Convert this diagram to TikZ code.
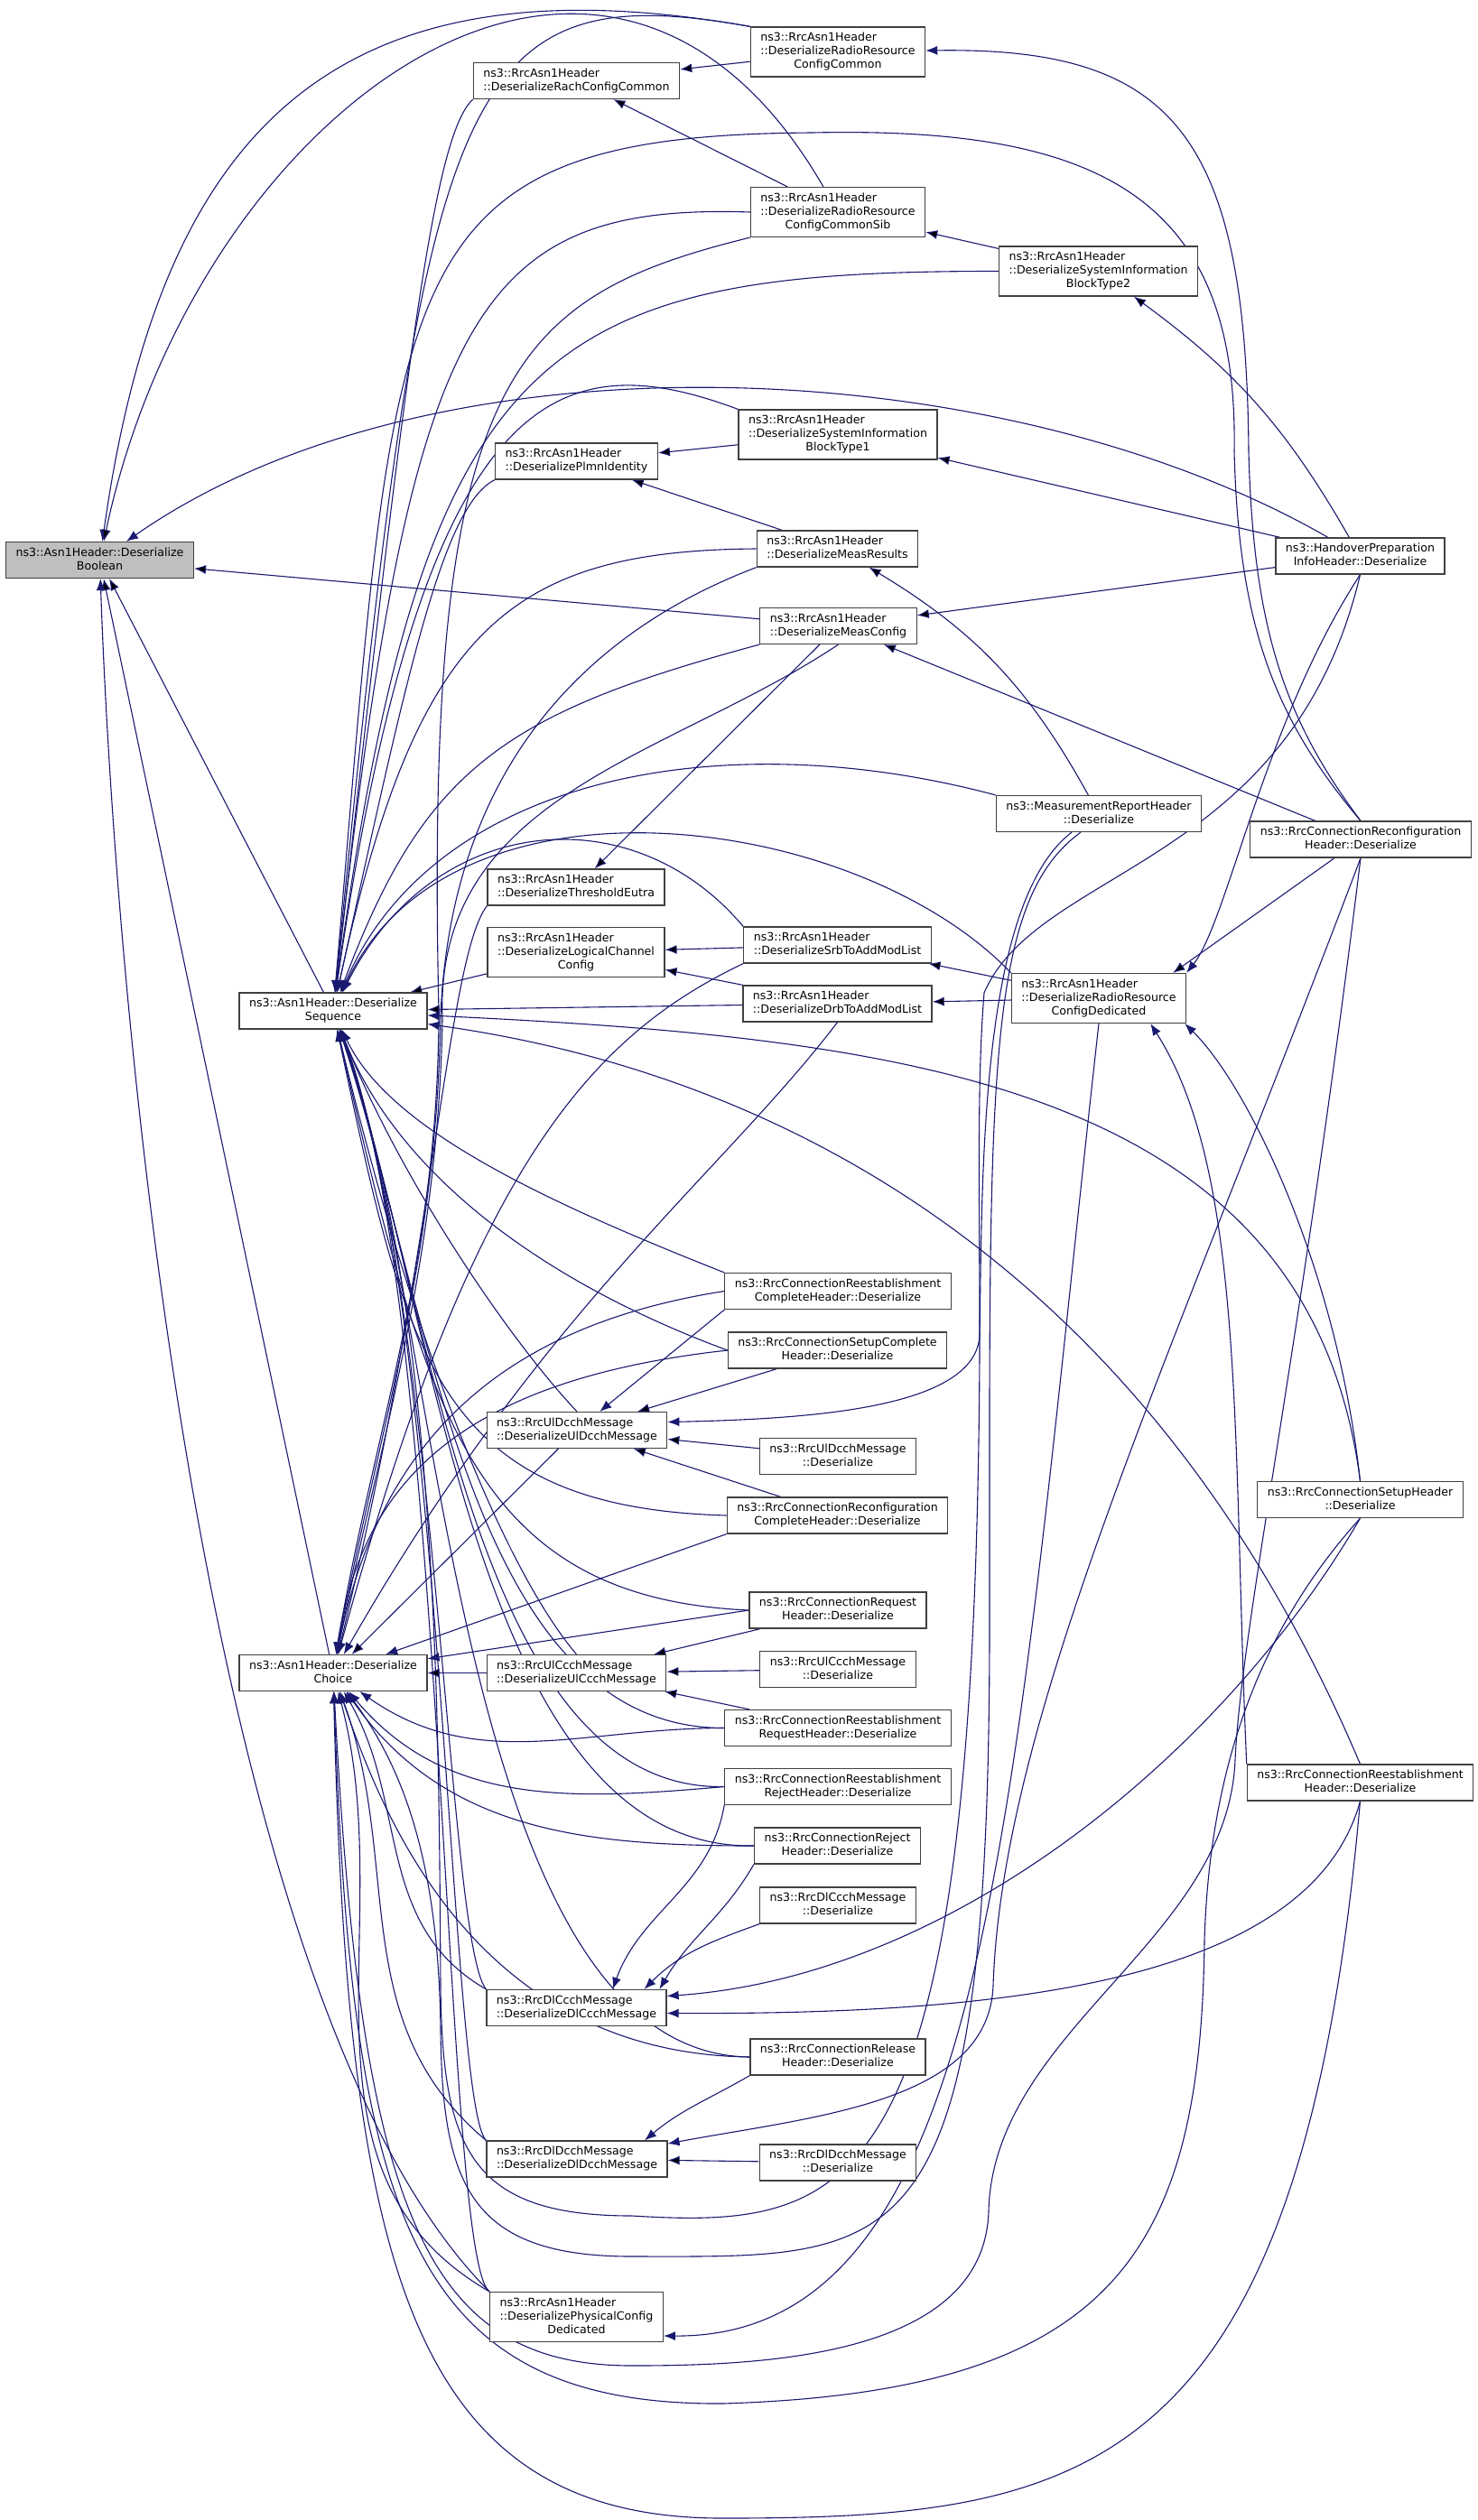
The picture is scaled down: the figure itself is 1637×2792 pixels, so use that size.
\documentclass[tikz,border=0pt]{standalone}
\usepackage{fontspec}
\setmainfont{DejaVu Sans}
\usetikzlibrary{arrows.meta,backgrounds}
\definecolor{midnightblue}{RGB}{25,25,112}
\newcommand{\fname}[2]{\begin{tabular}{@{}l@{}}#1\\\multicolumn{1}{@{}c@{}}{#2}\end{tabular}}
\tikzset{vertex/.style = {shape=rectangle,draw=black!75,line width=1.2pt,fill=white,inner xsep=11pt,inner ysep=5pt,font=\fontsize{12.6}{15}\selectfont}}
\tikzset{focus/.style = {vertex,fill=black!25}}
\tikzset{edge/.style = {->,> = {Latex[length=13pt,width=10pt]},draw=midnightblue,line width=1.1pt}}

\begin{document}
\begin{tikzpicture}[x=1pt,y=1pt]
\useasboundingbox (0,0) rectangle (1637,-2792);

\node[focus] (Bool) at (110.5,-620.5) {\fname{ns3::Asn1Header::Deserialize}{Boolean}};
\node[vertex] (Seq) at (369,-1120) {\fname{ns3::Asn1Header::Deserialize}{Sequence}};
\node[vertex] (Cho) at (369,-1853.5) {\fname{ns3::Asn1Header::Deserialize}{Choice}};

\node[vertex] (Rach) at (638.5,-89.5) {\fname{ns3::RrcAsn1Header}{::DeserializeRachConfigCommon}};
\node[vertex] (Plmn) at (638.5,-511) {\fname{ns3::RrcAsn1Header}{::DeserializePlmnIdentity}};
\node[vertex] (ThrEutra) at (638,-983) {\fname{ns3::RrcAsn1Header}{::DeserializeThresholdEutra}};
\node[vertex] (LogCh) at (638,-1055) {\fname{ns3::RrcAsn1Header\\::DeserializeLogicalChannel}{Config}};
\node[vertex] (UlDcchMsg) at (639,-1584.5) {\fname{ns3::RrcUlDcchMessage}{::DeserializeUlDcchMessage}};
\node[vertex] (UlCcchMsg) at (638.5,-1853.5) {\fname{ns3::RrcUlCcchMessage}{::DeserializeUlCcchMessage}};
\node[vertex] (DlCcchMsg) at (638.5,-2224.5) {\fname{ns3::RrcDlCcchMessage}{::DeserializeDlCcchMessage}};
\node[vertex] (DlDcchMsg) at (639,-2392) {\fname{ns3::RrcDlDcchMessage}{::DeserializeDlDcchMessage}};
\node[vertex] (PhyCfg) at (638.5,-2567) {\fname{ns3::RrcAsn1Header\\::DeserializePhysicalConfig}{Dedicated}};

\node[vertex] (RrcCom) at (928,-57.5) {\fname{ns3::RrcAsn1Header\\::DeserializeRadioResource}{ConfigCommon}};
\node[vertex] (RrcSib) at (928,-235) {\fname{ns3::RrcAsn1Header\\::DeserializeRadioResource}{ConfigCommonSib}};
\node[vertex] (Sib1) at (928,-481.5) {\fname{ns3::RrcAsn1Header\\::DeserializeSystemInformation}{BlockType1}};
\node[vertex] (MeasRes) at (927.5,-608) {\fname{ns3::RrcAsn1Header}{::DeserializeMeasResults}};
\node[vertex] (MeasCfg) at (928.5,-693.5) {\fname{ns3::RrcAsn1Header}{::DeserializeMeasConfig}};
\node[vertex] (SrbList) at (927.5,-1047) {\fname{ns3::RrcAsn1Header}{::DeserializeSrbToAddModList}};
\node[vertex] (DrbList) at (927.5,-1112) {\fname{ns3::RrcAsn1Header}{::DeserializeDrbToAddModList}};
\node[vertex] (ReestCompl) at (928,-1430.5) {\fname{ns3::RrcConnectionReestablishment}{CompleteHeader::Deserialize}};
\node[vertex] (SetupCompl) at (927.5,-1496) {\fname{ns3::RrcConnectionSetupComplete}{Header::Deserialize}};
\node[vertex] (UlDcch) at (928,-1613.5) {\fname{ns3::RrcUlDcchMessage}{::Deserialize}};
\node[vertex] (ReconfCompl) at (927.5,-1679) {\fname{ns3::RrcConnectionReconfiguration}{CompleteHeader::Deserialize}};
\node[vertex] (ConnReq) at (928,-1784) {\fname{ns3::RrcConnectionRequest}{Header::Deserialize}};
\node[vertex] (UlCcch) at (928,-1849.5) {\fname{ns3::RrcUlCcchMessage}{::Deserialize}};
\node[vertex] (ReestReq) at (928,-1914.5) {\fname{ns3::RrcConnectionReestablishment}{RequestHeader::Deserialize}};
\node[vertex] (ReestRej) at (928,-1979.5) {\fname{ns3::RrcConnectionReestablishment}{RejectHeader::Deserialize}};
\node[vertex] (ConnRej) at (927.5,-2045) {\fname{ns3::RrcConnectionReject}{Header::Deserialize}};
\node[vertex] (DlCcch) at (928,-2111) {\fname{ns3::RrcDlCcchMessage}{::Deserialize}};
\node[vertex] (ConnRel) at (928,-2279) {\fname{ns3::RrcConnectionRelease}{Header::Deserialize}};
\node[vertex] (DlDcch) at (928,-2396) {\fname{ns3::RrcDlDcchMessage}{::Deserialize}};

\node[vertex] (Sib2) at (1216.5,-300.5) {\fname{ns3::RrcAsn1Header\\::DeserializeSystemInformation}{BlockType2}};
\node[vertex] (MeasRep) at (1217,-901.5) {\fname{ns3::MeasurementReportHeader}{::Deserialize}};
\node[vertex] (RrcDed) at (1217,-1106) {\fname{ns3::RrcAsn1Header\\::DeserializeRadioResource}{ConfigDedicated}};

\node[vertex] (HoPrep) at (1506.5,-616) {\fname{ns3::HandoverPreparation}{InfoHeader::Deserialize}};
\node[vertex] (Reconf) at (1507,-930) {\fname{ns3::RrcConnectionReconfiguration}{Header::Deserialize}};
\node[vertex] (SetupH) at (1506.5,-1661.5) {\fname{ns3::RrcConnectionSetupHeader}{::Deserialize}};
\node[vertex] (ReestH) at (1506.5,-1975) {\fname{ns3::RrcConnectionReestablishment}{Header::Deserialize}};

\begin{scope}[on background layer]
\draw[edge] (RrcCom.north west) to[out=170, in=82, looseness=1.3] (Bool);
\path[edge] (RrcSib) edge[out=120, in=78, looseness=1.4] (Bool);
\draw[edge] (HoPrep) .. controls (1111,-388) and (482,-361) .. (Bool);
\path[edge] (MeasCfg) edge (Bool);
\path[edge] (Seq) edge (Bool);
\path[edge] (Cho) edge (Bool);
\draw[edge] (PhyCfg.north west) .. controls (220,-2217) and (127,-1098) .. (Bool);

\path[edge] (RrcCom) edge (Rach);
\path[edge] (RrcSib) edge (Rach);
\path[edge] (Sib1) edge (Plmn);
\path[edge] (MeasRes) edge (Plmn);
\path[edge] (MeasCfg) edge (ThrEutra);
\path[edge] (SrbList) edge (LogCh);
\path[edge] (DrbList) edge (LogCh);
\path[edge] (Sib2) edge (RrcSib);
\path[edge] (HoPrep) edge[bend right=12] (Sib2);
\path[edge] (HoPrep) edge (Sib1);
\path[edge] (HoPrep) edge (MeasCfg);
\path[edge] (Reconf) edge (MeasCfg);
\path[edge] (MeasRep) edge[bend right=15] (MeasRes);
\path[edge] (RrcDed) edge (SrbList);
\path[edge] (RrcDed) edge (DrbList);
\draw[edge] (Reconf.north) .. controls (1425,-800) and (1388,-700) .. (1383,-500) .. controls (1380,-150) and (1300,-52) .. (RrcCom);
\draw[edge] (HoPrep.south) .. controls (1400,-800) and (1360,-1020) .. (RrcDed.north east);
\path[edge] (Reconf) edge ([xshift=-15pt]RrcDed.north east);
\draw[edge] (SetupH.north) .. controls (1480,-1400) and (1380,-1200) .. ([xshift=-2pt]RrcDed.south east);
\draw[edge] (ReestH.north west) .. controls (1365,-1600) and (1380,-1300) .. ([xshift=-40pt]RrcDed.south east);
\draw[edge] (RrcDed.south) .. controls (1120,-2000) and (1100,-2590) .. ([yshift=-21pt]PhyCfg.east);

\draw[edge] (Rach.south west) .. controls (480,-150) and (450,-400) .. (Seq);
\draw[edge] (RrcCom.north west) .. controls (500,30) and (470,-100) .. (Seq);
\draw[edge] (RrcSib.west) .. controls (520,-225) and (455,-350) .. (Seq);
\draw[edge] (Sib2.west) .. controls (600,-300) and (470,-380) .. (Seq);
\draw[edge] (Sib1.north west) .. controls (620,-380) and (470,-420) .. (Seq);
\draw[edge] (Plmn.south west) .. controls (490,-560) and (450,-750) .. (Seq);
\draw[edge] (MeasRes.west) .. controls (560,-610) and (460,-700) .. (Seq);
\draw[edge] (MeasCfg.south west) .. controls (560,-790) and (470,-850) .. (Seq);
\draw[edge] (Reconf.north) .. controls (1415,-800) and (1372,-700) .. (1367,-500) .. controls (1372,-220) and (1220,-140) .. (900,-147) .. controls (420,-150) and (440,-300) .. (Seq);
\draw[edge] (MeasRep.north west) .. controls (800,-800) and (480,-860) .. (Seq);
\draw[edge] (RrcDed.north west) .. controls (950,-900) and (500,-840) .. (Seq);
\draw[edge] (SrbList.north west) .. controls (700,-880) and (480,-900) .. (Seq);
\path[edge] (LogCh) edge (Seq);
\path[edge] (DrbList) edge (Seq);
\draw[edge] (SetupH.north) .. controls (1450,-1200) and (1000,-1150) .. (Seq);
\draw[edge] (ReestH.north) .. controls (1250,-1350) and (800,-1180) .. (Seq);

\draw[edge] (ReestCompl.north west) .. controls (600,-1330) and (430,-1250) .. (Seq);
\draw[edge] (SetupCompl.west) .. controls (600,-1420) and (440,-1300) .. (Seq);
\draw[edge] (UlDcchMsg.north) .. controls (560,-1480) and (440,-1300) .. (Seq);
\draw[edge] (ReconfCompl.west) .. controls (480,-1670) and (450,-1500) .. (Seq);
\draw[edge] (ConnReq.west) .. controls (520,-1770) and (470,-1560) .. (Seq);
\draw[edge] (UlCcchMsg.north) .. controls (560,-1740) and (460,-1500) .. (Seq);
\draw[edge] (ReestReq.west) .. controls (520,-1915) and (478,-1450) .. (Seq);
\draw[edge] (ReestRej.west) .. controls (525,-1985) and (481,-1450) .. (Seq);
\draw[edge] (ConnRej.west) .. controls (525,-2050) and (484,-1450) .. (Seq);
\draw[edge] (DlCcchMsg.north west) .. controls (495,-2150) and (487,-1450) .. (Seq);
\draw[edge] (ConnRel.west) .. controls (500,-2275) and (490,-1450) .. (Seq);
\draw[edge] (DlDcchMsg.north west) .. controls (497,-2330) and (493,-1450) .. (Seq);
\draw[edge] (PhyCfg.north west) .. controls (490,-2500) and (496,-1450) .. (Seq);
\draw[edge] (HoPrep.south) .. controls (1430,-960) and (1150,-960) .. (1090,-1100) .. controls (1082,-1200) and (1085,-1300) .. (1085,-1500) .. controls (1080,-2440) and (950,-2470) .. (700,-2455) .. controls (520,-2455) and (490,-2380) .. (488,-2200) .. controls (486,-1900) and (486,-1450) .. (Seq);

\draw[edge] (ThrEutra.south west) .. controls (495,-1060) and (480,-1400) .. (Cho);
\draw[edge] (MeasCfg.south) .. controls (740,-840) and (480,-880) .. (490,-1130) .. controls (485,-1400) and (420,-1600) .. (Cho);
\draw[edge] (RrcSib.south west) .. controls (560,-330) and (470,-420) .. (486,-1120) .. controls (486,-1400) and (410,-1600) .. (Cho);
\draw[edge] (MeasRes.south west) .. controls (650,-700) and (500,-850) .. (488,-1125) .. controls (484,-1400) and (415,-1600) .. (Cho);
\draw[edge] (SrbList.south west) .. controls (650,-1150) and (520,-1300) .. (Cho);
\draw[edge] (DrbList.south) .. controls (800,-1300) and (600,-1450) .. (Cho);
\draw[edge] (ReestCompl.west) .. controls (550,-1470) and (420,-1600) .. (Cho);
\draw[edge] (SetupCompl.west) .. controls (500,-1530) and (400,-1650) .. (Cho);
\path[edge] (UlDcchMsg) edge (Cho);
\draw[edge] (ReconfCompl.south west) -- (Cho);
\draw[edge] (ConnReq.west) -- (Cho);
\path[edge] (UlCcchMsg) edge (Cho);
\draw[edge] (ReestReq.west) to[out=180, in=-35] (Cho);
\draw[edge] (ReestRej.west) to[out=185, in=-50] (Cho);
\draw[edge] (ConnRej.west) to[out=180, in=-55] (Cho);
\draw[edge] (DlCcchMsg.north west) to[out=150, in=-60] (Cho);
\draw[edge] (ConnRel.west) .. controls (520,-2275) and (420,-2000) .. (Cho);
\draw[edge] (DlDcchMsg.north west) to[out=140, in=-70] (Cho);
\draw[edge] (PhyCfg.north west) to[out=150, in=-75] (Cho);
\draw[edge] ([xshift=-20pt]MeasRep.south) .. controls (1090,-1000) and (1096,-1200) .. (1096,-1800) .. controls (1096,-2520) and (1000,-2500) .. (700,-2500) .. controls (520,-2500) and (490,-2420) .. (488,-2250) .. controls (486,-2050) and (440,-1950) .. (Cho);
\draw[edge] (Reconf.south) .. controls (1440,-1500) and (1375,-1800) .. (1368,-1950) .. controls (1360,-2150) and (1100,-2250) .. (1095,-2450) .. controls (1090,-2610) and (850,-2621) .. (700,-2621) .. controls (470,-2621) and (400,-2450) .. (Cho);
\draw[edge] (SetupH.south) .. controls (1400,-1800) and (1340,-1950) .. (1334,-2150) .. controls (1330,-2500) and (1230,-2650) .. (800,-2663) .. controls (450,-2665) and (390,-2450) .. (Cho);
\draw[edge] (ReestH.south) .. controls (1440,-2750) and (1200,-2790) .. (800,-2790) .. controls (450,-2790) and (385,-2500) .. (Cho);

\draw[edge] (ReestCompl.south west) -- (UlDcchMsg);
\path[edge] (SetupCompl) edge (UlDcchMsg);
\draw[edge] ([xshift=-30pt]MeasRep.south) .. controls (1085,-1000) and (1088,-1300) .. (1085,-1480) .. controls (1080,-1560) and (900,-1572) .. ([yshift=9pt]UlDcchMsg.east);
\path[edge] (UlDcch) edge (UlDcchMsg);
\path[edge] (ReconfCompl) edge (UlDcchMsg);
\path[edge] (ConnReq) edge (UlCcchMsg);
\path[edge] (UlCcch) edge (UlCcchMsg);
\path[edge] (ReestReq) edge (UlCcchMsg);

\draw[edge] (ReestRej.south west) to[out=-100, in=70] ([xshift=40pt]DlCcchMsg.north);
\draw[edge] (DlCcch.south west) to[out=200, in=45] ([xshift=75pt]DlCcchMsg.north);
\draw[edge] (ConnRej.south west) to[out=-120, in=60] ([xshift=92pt]DlCcchMsg.north);
\draw[edge] (SetupH.south) .. controls (1350,-1950) and (1050,-2190) .. ([yshift=13pt]DlCcchMsg.east);
\draw[edge] (ReestH.south) .. controls (1450,-2200) and (1100,-2232) .. ([yshift=-6pt]DlCcchMsg.east);
\draw[edge] (ConnRel.south west) to[out=-150, in=40] ([xshift=75pt]DlDcchMsg.north);
\path[edge] (DlDcch) edge (DlDcchMsg);
\draw[edge] (Reconf.south) .. controls (1300,-1500) and (1110,-1900) .. (1100,-2200) .. controls (1095,-2330) and (900,-2345) .. ([yshift=17pt]DlDcchMsg.east);
\end{scope}
\end{tikzpicture}
\end{document}
